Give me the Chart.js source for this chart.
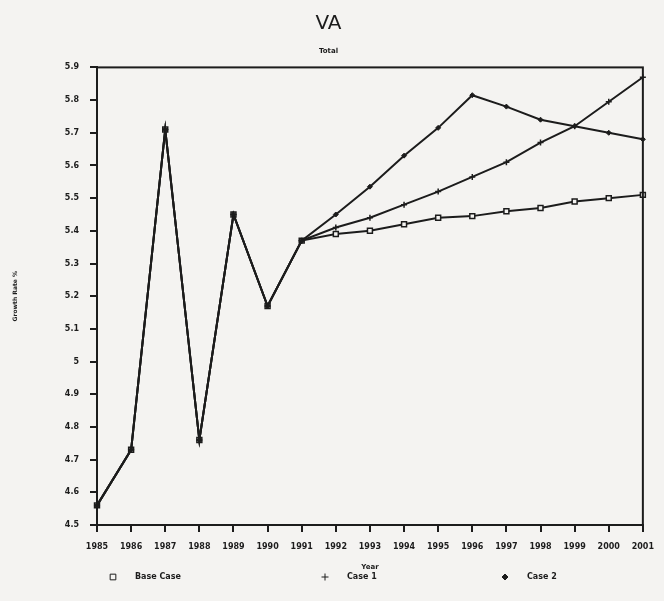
<!DOCTYPE html>
<html>
<head>
<meta charset="utf-8">
<title>VA</title>
<script src="https://cdn.jsdelivr.net/npm/chart.js@4"></script>
<style>
  html, body { margin: 0; padding: 0; background: #f4f3f1; }
  #wrap { width: 664px; height: 601px; }
</style>
</head>
<body>
<div id="wrap"><canvas id="myChart" width="664" height="601"></canvas></div>
<script>
// years on the x axis
const years = ['1985', '1986', '1987', '1988', '1989', '1990', '1991', '1992', '1993',
  '1994', '1995', '1996', '1997', '1998', '1999', '2000', '2001'];

// actual growth 1985-1991, shared by every case
const history = [4.56, 4.73, 5.71, 4.76, 5.45, 5.17, 5.37];

// projections 1992-2001
const baseCase = [5.39, 5.40, 5.42, 5.44, 5.445, 5.46, 5.47, 5.49, 5.50, 5.51];
const case1 = [5.41, 5.44, 5.48, 5.52, 5.565, 5.61, 5.67, 5.72, 5.795, 5.87];
const case2 = [5.45, 5.535, 5.63, 5.715, 5.815, 5.78, 5.74, 5.72, 5.70, 5.68];

// y axis range
const yMin = 4.5;
const yMax = 5.9;
const yStep = 0.1;

const ink = '#1c1c1c';
const paper = '#f4f3f1';
const tickFont = { family: 'DejaVu Sans', size: 8, weight: 'bold' };

// box round the plot area, like the original
const frame = {
  id: 'frame',
  afterDatasetsDraw(chart) {
    const a = chart.chartArea;
    const c = chart.ctx;
    c.save();
    c.strokeStyle = ink;
    c.lineWidth = 2;
    c.strokeRect(a.left, a.top, a.right - a.left, a.bottom - a.top);
    c.restore();
  }
};

// the legend sits spread out under the axis title
const spreadLegend = {
  id: 'spreadLegend',
  afterDraw(chart) {
    const c = chart.ctx;
    const y = 577;
    const slots = [113, 325, 505];
    c.save();
    c.font = 'bold 8px "DejaVu Sans"';
    c.textBaseline = 'middle';
    chart.data.datasets.forEach((ds, i) => {
      const x = slots[i];
      c.strokeStyle = ink;
      c.fillStyle = ds.pointBackgroundColor || ink;
      Chart.helpers.drawPoint(c, {
        pointStyle: ds.pointStyle,
        radius: ds.pointRadius + 0.5,
        borderWidth: ds.pointBorderWidth + 0.5,
        rotation: 0
      }, x, y);
      c.fillStyle = ink;
      c.fillText(ds.label, x + 22, y);
    });
    c.restore();
  }
};

// ticks on the outside of the axis, no grid inside
const axisGrid = { display: true, drawOnChartArea: false, drawTicks: true, tickLength: 7, color: ink, lineWidth: 2 };

const ctx = document.getElementById('myChart').getContext('2d');
const chart = new Chart(ctx, {
  type: 'line',
  data: {
    labels: years,
    datasets: [{
      label: 'Base Case',
      data: history.concat(baseCase),
      order: 2,
      borderColor: ink,
      borderWidth: 2,
      pointStyle: 'rect',
      pointRadius: 3.5,
      pointBackgroundColor: paper,
      pointBorderColor: ink,
      pointBorderWidth: 1.5,
      fill: false
    }, {
      label: 'Case 1',
      data: history.concat(case1),
      order: 1,
      borderColor: ink,
      borderWidth: 2,
      pointStyle: 'cross',
      pointRadius: 3,
      pointBorderColor: ink,
      pointBorderWidth: 1.5,
      fill: false
    }, {
      label: 'Case 2',
      data: history.concat(case2),
      order: 0,
      borderColor: ink,
      borderWidth: 2,
      pointStyle: 'rectRot',
      pointRadius: 2.5,
      pointBackgroundColor: ink,
      pointBorderColor: ink,
      pointBorderWidth: 1,
      fill: false
    }]
  },
  options: {
    responsive: false,
    animation: false,
    layout: { padding: { left: 12, right: 19, top: 0, bottom: 30 } },
    plugins: {
      title: {
        display: true,
        text: 'VA',
        color: ink,
        font: { family: 'DejaVu Sans', size: 20, weight: 'normal' },
        padding: { top: 12, bottom: 0 }
      },
      subtitle: {
        display: true,
        text: 'Total',
        color: ink,
        font: { family: 'DejaVu Sans', size: 7, weight: 'bold' },
        padding: { top: 11, bottom: 12 }
      },
      legend: { display: false },
      tooltip: { enabled: false }
    },
    scales: {
      x: {
        offset: false,
        grid: axisGrid,
        border: { display: true, color: ink, width: 2 },
        ticks: { color: ink, font: tickFont, maxRotation: 0, autoSkip: false, padding: 10 },
        title: {
          display: true,
          text: 'Year',
          color: ink,
          font: { family: 'DejaVu Sans', size: 7, weight: 'bold' },
          padding: { top: 5, bottom: 0 }
        },
        afterFit(scale) { scale.height = 46; }
      },
      y: {
        min: yMin,
        max: yMax,
        grid: axisGrid,
        border: { display: true, color: ink, width: 2 },
        ticks: {
          stepSize: yStep,
          color: ink,
          font: tickFont,
          padding: 11,
          callback: v => String(Math.round(v * 10) / 10)
        },
        title: {
          display: true,
          text: 'Growth Rate %',
          color: ink,
          font: { family: 'DejaVu Sans', size: 6, weight: 'bold' },
          padding: { top: 0, bottom: 20 }
        },
        afterFit(scale) { scale.width = 85; }
      }
    }
  },
  plugins: [frame, spreadLegend]
});
</script>
</body>
</html>
